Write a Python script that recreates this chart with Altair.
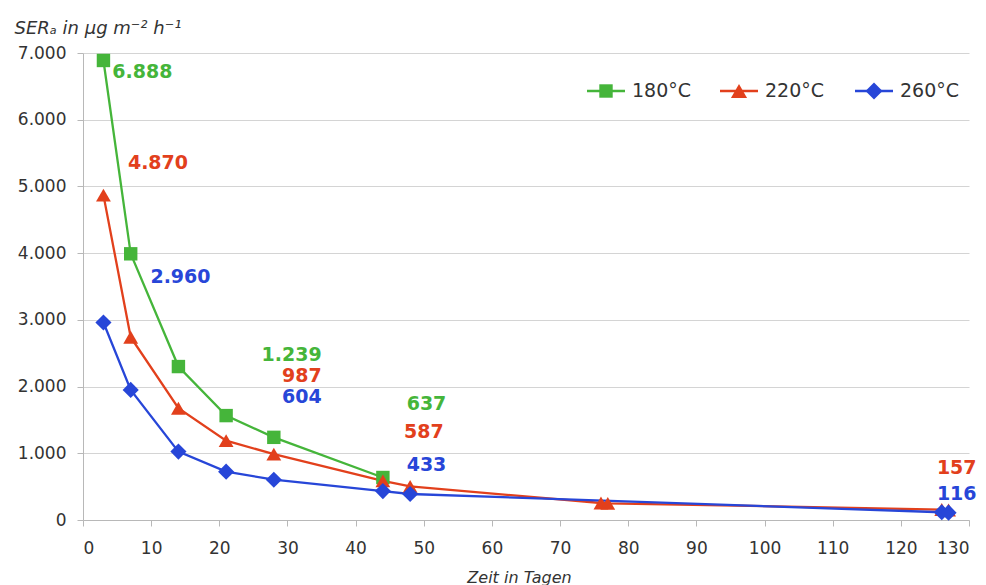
import altair as alt
import pandas as pd

series_names = ["180°C", "220°C", "260°C"]
series_colors = ["#45b53a", "#e2401c", "#2746d8"]
series_shapes = ["square", "triangle-up", "diamond"]

days_180 = [3, 7, 14, 21, 28, 44]
ser_180 = [6888, 3990, 2300, 1565, 1239, 637]
days_220 = [3, 7, 14, 21, 28, 44, 48, 76, 77, 126, 127]
ser_220 = [4870, 2740, 1675, 1190, 987, 587, 505, 255, 250, 157, 150]
days_260 = [3, 7, 14, 21, 28, 44, 48, 126, 127]
ser_260 = [2960, 1950, 1025, 725, 604, 433, 390, 116, 110]

label_series = ["180°C", "220°C", "260°C", "180°C", "220°C", "260°C",
                "180°C", "220°C", "260°C", "220°C", "260°C"]
label_values = [6888, 4870, 2960, 1239, 987, 604, 637, 587, 433, 157, 116]
label_day = [8.7, 11.0, 14.3, 30.6, 32.1, 32.1, 50.4, 50.0, 50.4, 128.2, 128.2]
label_ser = [6720, 5355, 3645, 2475, 2160, 1845, 1740, 1320, 825, 780, 390]

x_ticks = list(range(0, 131, 10))
y_ticks = list(range(0, 7001, 1000))

rows = []
for name, ds, vs in zip(series_names, [days_180, days_220, days_260],
                        [ser_180, ser_220, ser_260]):
    for d, v in zip(ds, vs):
        rows.append({"series": name, "day": d, "ser": v})
df = pd.DataFrame(rows)

labels = pd.DataFrame({"series": label_series, "value": label_values,
                       "day": label_day, "ser": label_ser})

FONT = "DejaVu Sans"
marker_sizes = [180, 260, 290]
color_scale = alt.Scale(domain=series_names, range=series_colors)
shape_scale = alt.Scale(domain=series_names, range=series_shapes)
size_scale = alt.Scale(domain=series_names, range=marker_sizes)

x_enc = alt.X("day:Q", scale=alt.Scale(domain=[0, 130], nice=False),
              axis=alt.Axis(values=x_ticks, title="Zeit in Tagen", grid=False,
                            titleFontStyle="italic", titleFontWeight="normal",
                            titleFontSize=16, titleY=49, titleX=436,
                            tickSize=6, labelPadding=14, labelFontSize=17))
y_enc = alt.Y("ser:Q", scale=alt.Scale(domain=[0, 7000], nice=False),
              axis=alt.Axis(values=y_ticks, title="SERₐ in µg m⁻² h⁻¹",
                            titleAngle=0, titleAlign="left", titleBaseline="alphabetic",
                            titleX=-69, titleY=-20, titleFontStyle="italic",
                            titleFontWeight="normal", titleFontSize=18,
                            labelExpr="replace(format(datum.value, ','), ',', '.')",
                            tickSize=6, labelPadding=11, labelFontSize=17))

base = alt.Chart(df)
lines = base.mark_line(strokeWidth=2.3).encode(
    x=x_enc, y=y_enc,
    color=alt.Color("series:N", scale=color_scale, legend=None),
)
points = base.mark_point(filled=True, opacity=1).encode(
    x="day:Q", y="ser:Q",
    color=alt.Color("series:N", scale=color_scale, legend=None),
    shape=alt.Shape("series:N", scale=shape_scale, legend=None),
    size=alt.Size("series:N", scale=size_scale, legend=None),
)
texts = alt.Chart(labels).transform_calculate(
    txt="replace(format(datum.value, ','), ',', '.')"
).mark_text(font=FONT, fontWeight="bold", fontSize=19, align="center",
            baseline="middle").encode(
    x="day:Q", y="ser:Q", text="txt:N",
    color=alt.Color("series:N", scale=color_scale, legend=None),
)

# manual legend (line + marker + text), pixel positions within the plot area
one = pd.DataFrame({"k": [0]})
legend_x = [504, 637, 772]
legend_y = 38
legend_layers = []
for name, col, shp, sz, lx in zip(series_names, series_colors, series_shapes,
                                   marker_sizes, legend_x):
    lb = alt.Chart(one)
    legend_layers.append(lb.mark_rule(color=col, strokeWidth=2.3).encode(
        x=alt.value(lx), x2=alt.value(lx + 38), y=alt.value(legend_y)))
    legend_layers.append(lb.mark_point(filled=True, opacity=1, color=col, shape=shp,
                                       size=sz).encode(
        x=alt.value(lx + 19), y=alt.value(legend_y)))
    legend_layers.append(lb.mark_text(font=FONT, fontSize=19, align="left",
                                      baseline="middle", color="#333333",
                                      text=name).encode(
        x=alt.value(lx + 45), y=alt.value(legend_y)))

chart = alt.layer(lines, points, texts, *legend_layers).properties(
    width=886, height=467,
    autosize=alt.AutoSizeParams(type="none"),
    padding={"left": 83, "top": 53, "right": 17, "bottom": 65},
    background="white",
).configure_view(stroke=None).configure_axis(
    labelFont=FONT, titleFont=FONT, labelColor="#333333", titleColor="#333333",
    domainColor="#b8b8b8", tickColor="#b8b8b8", gridColor="#d4d4d4",
    domainWidth=1, tickWidth=1, gridWidth=1,
)

chart.save("out.html", embed_options={"renderer": "svg", "actions": False})
